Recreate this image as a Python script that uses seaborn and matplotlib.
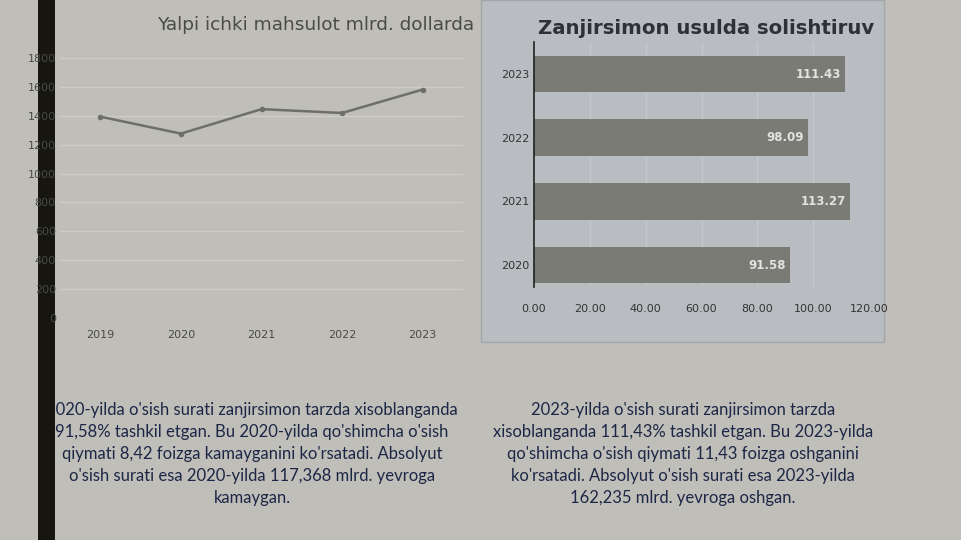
import matplotlib
matplotlib.use("Agg")
import matplotlib.pyplot as plt
from matplotlib.patches import Rectangle
import seaborn as sns
import pandas as pd

# Data
years = [2019, 2020, 2021, 2022, 2023]
gdp = [1393.9, 1276.5, 1445.9, 1419.4, 1581.6]

chain_years = ["2023", "2022", "2021", "2020"]
chain_index = [111.43, 98.09, 113.27, 91.58]

line_title = "Yalpi ichki mahsulot mlrd. dollarda"
bar_title = "Zanjirsimon usulda solishtiruv"

text_left = ("2020-yilda o'sish surati zanjirsimon tarzda xisoblanganda\n"
             "91,58% tashkil etgan. Bu 2020-yilda qo'shimcha o'sish\n"
             "qiymati 8,42 foizga kamayganini ko'rsatadi. Absolyut\n"
             "o'sish surati esa 2020-yilda 117,368 mlrd. yevroga\n"
             "kamaygan.")
text_right = ("2023-yilda o'sish surati zanjirsimon tarzda\n"
              "xisoblanganda 111,43% tashkil etgan. Bu 2023-yilda\n"
              "qo'shimcha o'sish qiymati 11,43 foizga oshganini\n"
              "ko'rsatadi. Absolyut o'sish surati esa 2023-yilda\n"
              "162,235 mlrd. yevroga oshgan.")

sns.set_style("white")
plt.rcParams["font.family"] = ["DejaVu Sans"]

W, H = 961, 540
bg = "#c0beb8"
fig = plt.figure(figsize=(W / 100, H / 100), dpi=100, facecolor=bg)


def box(x0, y0, x1, y1):
    # pixel box (top-left origin) -> figure fraction rect
    return [x0 / W, 1 - y1 / H, (x1 - x0) / W, (y1 - y0) / H]


# dark strip on the left
fig.patches.append(Rectangle((38 / W, 0), 17 / W, 1, transform=fig.transFigure,
                             facecolor="#16160f", edgecolor="none", zorder=-2))
# right panel background
fig.patches.append(Rectangle((481 / W, 1 - 342 / H), 403 / W, 342 / H, transform=fig.transFigure,
                             facecolor="#b9bcc1", edgecolor="#a2a5aa", linewidth=1, zorder=-2))

# ---- line chart ----
ax1 = fig.add_axes(box(60, 58, 463, 318))
ax1.set_facecolor("none")
df_line = pd.DataFrame({"year": years, "gdp": gdp})
sns.lineplot(data=df_line, x="year", y="gdp", ax=ax1, color="#6f6f69",
             linewidth=1.8, marker="o", markersize=4, markeredgewidth=0)
ax1.set_xlim(2018.5, 2023.5)
ax1.set_ylim(0, 1800)
ax1.set_xticks(years)
ax1.set_yticks(range(0, 1801, 200))
ax1.grid(axis="y", color="#cfcdc7", linewidth=1)
for s in ax1.spines.values():
    s.set_visible(False)
ax1.tick_params(axis="both", length=0, labelsize=8, colors="#4a4a46")
ax1.tick_params(axis="x", pad=9)
ax1.tick_params(axis="y", pad=3)
ax1.set_xlabel("")
ax1.set_ylabel("")
fig.text(316 / W, 1 - 25 / H, line_title, ha="center", va="center",
         fontsize=13.3, color="#4a4a46")

# ---- bar chart ----
ax2 = fig.add_axes(box(534, 42, 869, 287))
ax2.set_facecolor("none")
df_bar = pd.DataFrame({"year": chain_years, "value": chain_index})
sns.barplot(data=df_bar, x="value", y="year", order=chain_years, ax=ax2,
            color="#7b7b75", width=0.58, saturation=1, edgecolor="none")
ax2.set_xlim(0, 120)
ax2.set_ylim(3.345, -0.503)
ax2.set_xticks(range(0, 121, 20))
ax2.set_xticklabels([f"{v:.2f}" for v in range(0, 121, 20)])
ax2.grid(axis="x", color="#c4c7cb", linewidth=1)
ax2.set_axisbelow(True)
for k in ["top", "right", "bottom"]:
    ax2.spines[k].set_visible(False)
ax2.spines["left"].set_color("#222222")
ax2.spines["left"].set_linewidth(1.2)
ax2.tick_params(axis="both", length=0, labelsize=8, colors="#333333")
ax2.tick_params(axis="x", pad=12)
ax2.tick_params(axis="y", pad=3)
ax2.set_xlabel("")
ax2.set_ylabel("")
labels = ax2.bar_label(ax2.containers[0], labels=[f"{v:.2f}" for v in chain_index],
                       label_type="edge", padding=-3, fontsize=8.5, fontweight="bold",
                       color="#e2e2e0")
for t in labels:
    t.set_ha("right")
fig.text(706 / W, 1 - 28 / H, bar_title, ha="center", va="center",
         fontsize=14.2, fontweight="bold", color="#2f3136")

# ---- paragraphs ----
fig.text(252 / W, 1 - 454 / H, text_left, ha="center", va="center",
         fontsize=12, family=["Lato", "DejaVu Sans"], color="#1c2747",
         linespacing=1.45, zorder=-3)
fig.text(683 / W, 1 - 454 / H, text_right, ha="center", va="center",
         fontsize=12, family=["Lato", "DejaVu Sans"], color="#1c2747",
         linespacing=1.45)

fig.savefig("out.png", dpi=100, facecolor=bg)
